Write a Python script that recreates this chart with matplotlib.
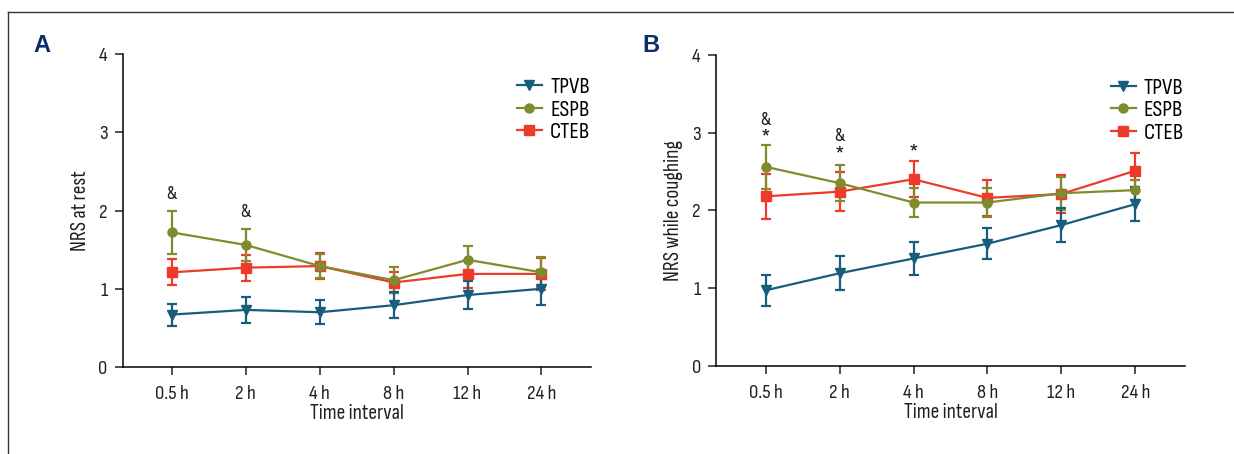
import numpy as np
import matplotlib.pyplot as plt
from matplotlib.lines import Line2D

times = ["0.5 h", "2 h", "4 h", "8 h", "12 h", "24 h"]
groups = ["TPVB", "ESPB", "CTEB"]

# panel A: NRS at rest (mean, error)
rest_tpvb = [0.67, 0.73, 0.70, 0.79, 0.92, 1.00]
rest_tpvb_err = [0.14, 0.17, 0.155, 0.165, 0.18, 0.21]
rest_espb = [1.72, 1.56, 1.29, 1.11, 1.37, 1.21]
rest_espb_err = [0.27, 0.21, 0.15, 0.165, 0.18, 0.19]
rest_cteb = [1.21, 1.27, 1.29, 1.08, 1.19, 1.19]
rest_cteb_err = [0.165, 0.165, 0.165, 0.14, 0.18, 0.20]

# panel B: NRS while coughing
cough_tpvb = [0.97, 1.19, 1.38, 1.57, 1.81, 2.08]
cough_tpvb_err = [0.20, 0.22, 0.21, 0.20, 0.22, 0.22]
cough_espb = [2.56, 2.35, 2.10, 2.10, 2.22, 2.26]
cough_espb_err = [0.28, 0.23, 0.19, 0.19, 0.21, 0.13]
cough_cteb = [2.18, 2.24, 2.40, 2.16, 2.21, 2.51]
cough_cteb_err = [0.29, 0.25, 0.235, 0.235, 0.25, 0.23]

# significance marks: (time index, y, text)
rest_marks = [(0, 2.21, "&"), (1, 1.98, "&")]
cough_marks = [(0, 3.16, "&"), (0, 2.95, "*"), (1, 2.96, "&"), (1, 2.73, "*"), (2, 2.76, "*")]

colors = {"TPVB": "#175d7c", "ESPB": "#7f8b2c", "CTEB": "#ee3a2a"}
markers = {"TPVB": "v", "ESPB": "o", "CTEB": "s"}

FONT = ["Sofia Sans Condensed", "DejaVu Sans"]
plt.rcParams["font.family"] = FONT
plt.rcParams["axes.linewidth"] = 1.1
TXT = "#231f20"

fig = plt.figure(figsize=(12.34, 4.54), dpi=100)

# frame lines around figure (top and left)
fig.add_artist(Line2D([8 / 1234, 1], [1 - 12 / 454, 1 - 12 / 454], color="#333333", lw=1.0))
fig.add_artist(Line2D([8 / 1234, 8 / 1234], [0, 1 - 12 / 454], color="#333333", lw=1.0))


def panel(ax, data, marks, ylabel):
    x = np.arange(len(times))
    for g in ["CTEB", "ESPB", "TPVB"]:
        mean, err = data[g]
        ax.errorbar(x, mean, yerr=err, color=colors[g], marker=markers[g],
                    markersize=6.5, lw=1.6, elinewidth=1.6, capsize=3.4, capthick=1.6)
    for i, y, t in marks:
        if t == "*":
            # asterisk glyph sits high, so nudge it down a little
            ax.text(x[i], y - 0.05, t, ha="center", va="center", fontsize=20, color=TXT)
        else:
            ax.text(x[i], y, t, ha="center", va="center", fontsize=15, color=TXT)
    ax.set_xlim(-0.668, 5.67)
    ax.set_ylim(0, 4)
    ax.set_xticks(x)
    ax.set_xticklabels(times)
    ax.set_yticks([0, 1, 2, 3, 4])
    ax.spines["top"].set_visible(False)
    ax.spines["right"].set_visible(False)
    ax.tick_params(direction="out", length=6, width=1.1, labelsize=15, colors=TXT, pad=5)
    ax.tick_params(axis="x", pad=7)
    ax.set_xlabel("Time interval", fontsize=15.5, labelpad=1, color=TXT)
    ax.set_ylabel(ylabel, fontsize=15.5, labelpad=6, color=TXT)
    handles = [Line2D([], [], color=colors[g], marker=markers[g], markersize=6.5, lw=1.6)
               for g in groups]
    ax.legend(handles, groups, loc="upper left", bbox_to_anchor=(0.822, 0.955),
              frameon=False, fontsize=16.5, handlelength=1.1, handletextpad=0.35,
              labelspacing=0.1, borderaxespad=0)


axA = fig.add_axes([122.6 / 1234, 0.1916, 468.4 / 1234, 0.6894])
panel(axA, {"TPVB": (rest_tpvb, rest_tpvb_err), "ESPB": (rest_espb, rest_espb_err),
            "CTEB": (rest_cteb, rest_cteb_err)}, rest_marks, "NRS at rest")

axB = fig.add_axes([716.2 / 1234, 0.1945, 468.7 / 1234, 0.6845])
panel(axB, {"TPVB": (cough_tpvb, cough_tpvb_err), "ESPB": (cough_espb, cough_espb_err),
            "CTEB": (cough_cteb, cough_cteb_err)}, cough_marks, "NRS while coughing")

fig.text(42 / 1234, 1 - 45 / 454, "A", fontsize=17, fontweight="bold", color="#0b2d6b",
         ha="center", va="center", family=["Liberation Sans", "DejaVu Sans"])
fig.text(651 / 1234, 1 - 45 / 454, "B", fontsize=17, fontweight="bold", color="#0b2d6b",
         ha="center", va="center", family=["Liberation Sans", "DejaVu Sans"])

fig.savefig("out.png", dpi=100)
